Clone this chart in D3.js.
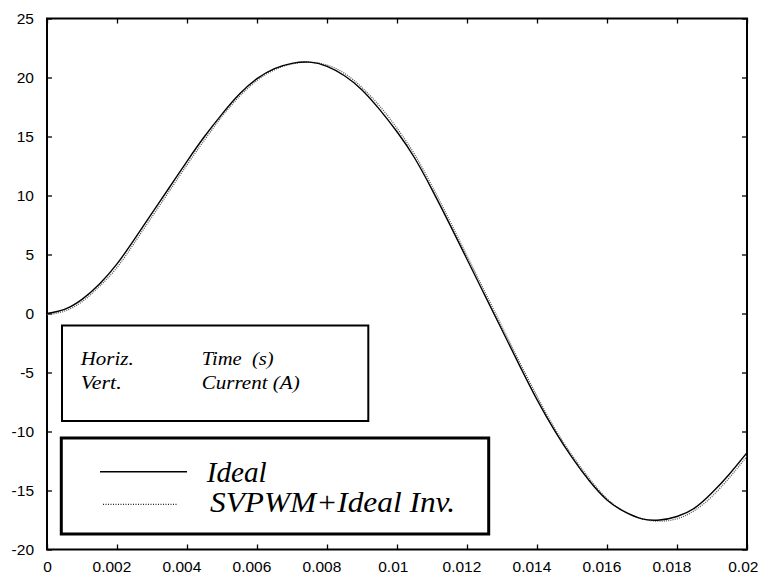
<!DOCTYPE html>
<html>
<head>
<meta charset="utf-8">
<script src="https://cdn.jsdelivr.net/npm/d3@7"></script>
<style>
  html, body { margin: 0; padding: 0; background: #fff; }
  svg { display: block; }
  .tick text { font-family: "Liberation Sans", Arial, sans-serif; font-size: 15.5px; fill: #000; }
  .serif { font-family: "Liberation Serif", "Times New Roman", serif; font-style: italic; fill: #000; white-space: pre; }
</style>
</head>
<body>
<svg id="chart" width="761" height="576"></svg>
<script>
// Sample instants (s)
const times = [
  0, 0.0005, 0.001, 0.0015, 0.002, 0.0025, 0.003, 0.0035, 0.004, 0.0045,
  0.005, 0.0055, 0.006, 0.0065, 0.007, 0.0075, 0.008, 0.0085, 0.009, 0.0095,
  0.01, 0.0105, 0.011, 0.0115, 0.012, 0.0125, 0.013, 0.0135, 0.014, 0.0145,
  0.015, 0.0155, 0.016, 0.0165, 0.017, 0.0175, 0.018, 0.0185, 0.019, 0.0195, 0.02
];
// Phase current, ideal supply (A)
const idealCurrent = [
  0.0, 0.35, 1.2, 2.5, 4.2, 6.3, 8.5, 10.7, 12.9, 15.0,
  16.9, 18.6, 19.9, 20.75, 21.2, 21.3, 20.95, 20.15, 18.95, 17.3,
  15.4, 13.2, 10.5, 7.6, 4.6, 1.6, -1.4, -4.4, -7.3, -9.9,
  -12.2, -14.2, -15.8, -16.8, -17.4, -17.5, -17.2, -16.5, -15.2, -13.6, -11.8
];
// Phase current, SVPWM + ideal inverter (A)
const svpwmCurrent = [
  -0.1, 0.2, 1.0, 2.3, 3.9, 6.0, 8.2, 10.4, 12.6, 14.7,
  16.7, 18.4, 19.75, 20.65, 21.15, 21.3, 21.05, 20.35, 19.15, 17.6,
  15.7, 13.5, 10.8, 7.9, 4.9, 1.9, -1.1, -4.1, -7.0, -9.7,
  -12.0, -14.0, -15.7, -16.8, -17.4, -17.6, -17.4, -16.7, -15.5, -13.9, -12.1
];
const xTicks = [0, 0.002, 0.004, 0.006, 0.008, 0.01, 0.012, 0.014, 0.016, 0.018, 0.02];
const yTicks = [-20, -15, -10, -5, 0, 5, 10, 15, 20, 25];
const seriesNames = ["Ideal", "SVPWM+Ideal Inv."];
const infoRows = [["Horiz.", "Time  (s)"], ["Vert.", "Current (A)"]];

const svg = d3.select("#chart");
const W = 761;
const L = 47, R = 747, T = 18.5, B = 549.5;

const x = d3.scaleLinear().domain([0, 0.02]).range([L, R]);
const y = d3.scaleLinear().domain([-20, 25]).range([B, T]);

// Axes with inward ticks on all four sides
const fmt = d => String(d);
const axisG = (axis, tx, ty) => {
  const g = svg.append("g").attr("transform", `translate(${tx},${ty})`).call(axis);
  g.select(".domain").remove();
  g.selectAll(".tick line").attr("stroke", "#000").attr("stroke-width", 1.3);
  return g;
};
const xAxisG = axisG(d3.axisBottom(x).tickValues(xTicks).tickFormat(fmt).tickSize(-5).tickPadding(11), 0, B);
axisG(d3.axisTop(x).tickValues(xTicks).tickFormat("").tickSize(-5), 0, T);
axisG(d3.axisLeft(y).tickValues(yTicks).tickFormat(fmt).tickSize(-5).tickPadding(13), L, 0);
axisG(d3.axisRight(y).tickValues(yTicks).tickFormat("").tickSize(-5), R, 0);

// Longer x labels sit slightly left of their tick; keep the last one inside the page
xAxisG.selectAll(".tick text").each(function (d) {
  const label = String(d);
  let dx = -(label.length - 1) * 1.4;
  const w = this.getComputedTextLength();
  const right = x(d) + dx + w / 2;
  if (right > W - 3) dx -= right - (W - 3);
  d3.select(this).attr("dx", dx);
});

svg.append("rect")
  .attr("x", L).attr("y", T).attr("width", R - L).attr("height", B - T)
  .attr("fill", "none").attr("stroke", "#000").attr("stroke-width", 2);

svg.append("clipPath").attr("id", "plot-clip")
  .append("rect").attr("x", L).attr("y", T).attr("width", R - L).attr("height", B - T);

const line = d3.line().x(d => x(d[0])).y(d => y(d[1])).curve(d3.curveNatural);
const plot = svg.append("g").attr("clip-path", "url(#plot-clip)");

plot.append("path")
  .datum(times.map((t, i) => [t, svpwmCurrent[i]]))
  .attr("d", line).attr("fill", "none")
  .attr("stroke", "#555").attr("stroke-width", 1.3).attr("stroke-dasharray", "1,1.2");

plot.append("path")
  .datum(times.map((t, i) => [t, idealCurrent[i]]))
  .attr("d", line).attr("fill", "none")
  .attr("stroke", "#000").attr("stroke-width", 1.4);

// Axis description box
svg.append("rect")
  .attr("x", 62).attr("y", 325.5).attr("width", 306.3).attr("height", 95.5)
  .attr("fill", "#fff").attr("stroke", "#000").attr("stroke-width", 2);
const infoCols = [80.7, 201.7];
const infoLens = [[53, 72], [41, 98]];
infoRows.forEach((row, r) => {
  row.forEach((txt, c) => {
    svg.append("text").attr("class", "serif")
      .attr("x", infoCols[c]).attr("y", 365 + r * 23.5)
      .attr("font-size", 18.5)
      .attr("textLength", infoLens[r][c]).attr("lengthAdjust", "spacingAndGlyphs")
      .text(txt);
  });
});

// Legend
svg.append("rect")
  .attr("x", 61.3).attr("y", 438).attr("width", 427.4).attr("height", 96)
  .attr("fill", "#fff").attr("stroke", "#000").attr("stroke-width", 3);
svg.append("line")
  .attr("x1", 100).attr("x2", 187).attr("y1", 471.7).attr("y2", 471.7)
  .attr("stroke", "#000").attr("stroke-width", 1.6);
svg.append("line")
  .attr("x1", 103).attr("x2", 177).attr("y1", 504.3).attr("y2", 504.3)
  .attr("stroke", "#222").attr("stroke-width", 1.3).attr("stroke-dasharray", "1,1.5");
const legX = [206.7, 210], legY = [481.7, 511.7], legLen = [60, 245];
seriesNames.forEach((name, i) => {
  svg.append("text").attr("class", "serif")
    .attr("x", legX[i]).attr("y", legY[i])
    .attr("font-size", 28.5)
    .attr("textLength", legLen[i]).attr("lengthAdjust", "spacingAndGlyphs")
    .text(name);
});
</script>
</body>
</html>
